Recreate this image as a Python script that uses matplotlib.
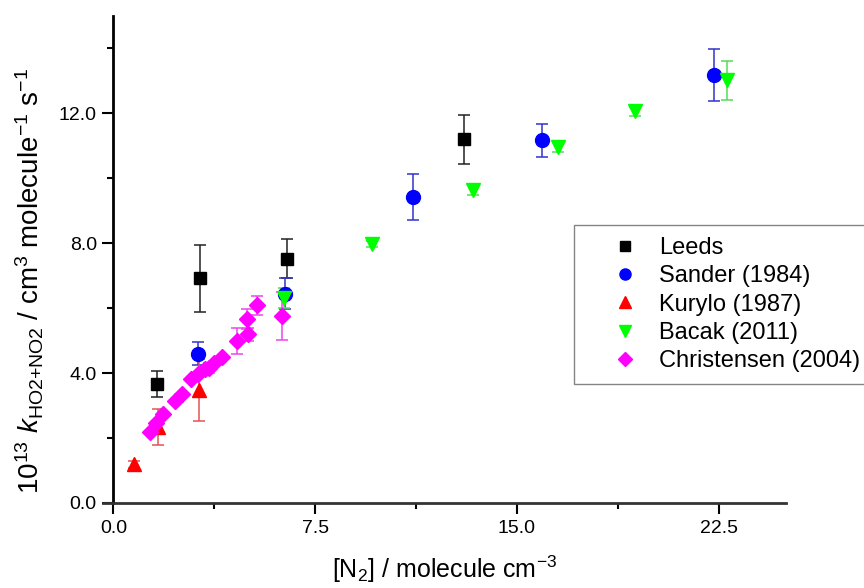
import matplotlib
matplotlib.use("Agg")
import matplotlib.pyplot as plt
from matplotlib.lines import Line2D
from matplotlib.ticker import MultipleLocator, FormatStrFormatter

plt.rcParams['font.family'] = ['Liberation Sans', 'DejaVu Sans']
plt.rcParams['mathtext.fontset'] = 'custom'
plt.rcParams['mathtext.rm'] = 'Liberation Sans'
plt.rcParams['mathtext.it'] = 'Liberation Sans:italic'
plt.rcParams['mathtext.bf'] = 'Liberation Sans:bold'

# ---- data ----
leeds_x = [1.6, 3.2, 6.46, 13.03]
leeds_y = [3.66, 6.92, 7.53, 11.2]
leeds_e = [0.4, 1.04, 0.6, 0.75]

sander_x = [3.15, 6.38, 11.15, 15.94, 22.32]
sander_y = [4.6, 6.45, 9.43, 11.17, 13.19]
sander_e = [0.35, 0.47, 0.7, 0.5, 0.8]

kurylo_x = [0.77, 1.67, 3.18]
kurylo_y = [1.19, 2.35, 3.48]
kurylo_e = [0.1, 0.55, 0.96]

bacak_x = [6.35, 9.6, 13.35, 16.51, 19.4, 22.79]
bacak_y = [6.32, 7.97, 9.63, 10.96, 12.06, 13.02]
bacak_e = [0.3, 0.1, 0.15, 0.15, 0.15, 0.6]

chris_x = [1.36, 1.58, 1.85, 2.28, 2.53, 2.90, 3.15, 3.40, 3.56, 3.72, 4.03,
           4.58, 4.99, 4.95, 5.32, 6.25]
chris_y = [2.19, 2.45, 2.75, 3.15, 3.36, 3.82, 3.98, 4.14, 4.15, 4.30, 4.49,
           4.98, 5.20, 5.66, 6.09, 5.76]
chris_e = [0.0, 0.0, 0.0, 0.0, 0.0, 0.0, 0.0, 0.0, 0.15, 0.0, 0.0,
           0.4, 0.2, 0.3, 0.3, 0.75]

x_ticks = [0.0, 7.5, 15.0, 22.5]
y_ticks = [0.0, 4.0, 8.0, 12.0]

series = [
    ("Leeds", leeds_x, leeds_y, leeds_e, 's', '#000000', '#222222', 9),
    ("Sander (1984)", sander_x, sander_y, sander_e, 'o', '#0000ff', '#3333cc', 10),
    ("Kurylo (1987)", kurylo_x, kurylo_y, kurylo_e, '^', '#ff0000', '#e05555', 10.5),
    ("Bacak (2011)", bacak_x, bacak_y, bacak_e, 'v', '#00ff00', '#55dd55', 10.5),
    ("Christensen (2004)", chris_x, chris_y, chris_e, 'D', '#ff00ff', '#ee44ee', 8.5),
]

fig = plt.figure(figsize=(8.64, 5.88), dpi=100)
ax = fig.add_axes([0.1189, 0.1446, 0.7908, 0.8282])

handles = []
for label, xs, ys, es, mk, col, ecol, ms in series:
    ax.errorbar(xs, ys, yerr=es, fmt=mk, color=col, mec=col, mfc=col,
                ms=ms, ecolor=ecol, elinewidth=1.1, capsize=4.5,
                capthick=1.1)
    handles.append(Line2D([], [], ls='none', marker=mk, color=col, mec=col,
                          mfc=col, ms=ms * 0.8, label=label))

ax.set_xlim(-0.4, 25.0)
ax.set_ylim(0, 15.0)
ax.spines['left'].set_position(('data', 0))
ax.spines['top'].set_visible(False)
ax.spines['right'].set_visible(False)
ax.spines['left'].set_linewidth(2.0)
ax.spines['bottom'].set_linewidth(2.0)
ax.spines['bottom'].set_color('#333333')

ax.set_xticks(x_ticks)
ax.set_yticks(y_ticks)
ax.xaxis.set_minor_locator(MultipleLocator(3.75))
ax.yaxis.set_minor_locator(MultipleLocator(2.0))
ax.xaxis.set_major_formatter(FormatStrFormatter('%.1f'))
ax.yaxis.set_major_formatter(FormatStrFormatter('%.1f'))
ax.tick_params(which='major', direction='out', length=8, width=1.5, labelsize=14, pad=4)
ax.tick_params(which='minor', direction='out', length=4, width=1.5)

ax.set_xlabel(r"[N$_2$] / molecule cm$^{-3}$", fontsize=18, labelpad=12)
ax.set_ylabel(r"10$^{13}$ $k_{\mathrm{HO2{+}NO2}}$ / cm$^3$ molecule$^{-1}$ s$^{-1}$",
              fontsize=20)
ax.yaxis.set_label_coords(-0.083, 0.455)

leg = ax.legend(handles=handles, loc='upper left',
                bbox_to_anchor=(574 / 864, 1 - 225 / 588),
                bbox_transform=fig.transFigure, fontsize=17,
                frameon=True, fancybox=False, edgecolor='#666666',
                borderpad=0.5, labelspacing=0.27, handletextpad=-0.23,
                handlelength=3.35, borderaxespad=0)
leg.get_frame().set_linewidth(1.0)

fig.savefig("out.png", dpi=100)
